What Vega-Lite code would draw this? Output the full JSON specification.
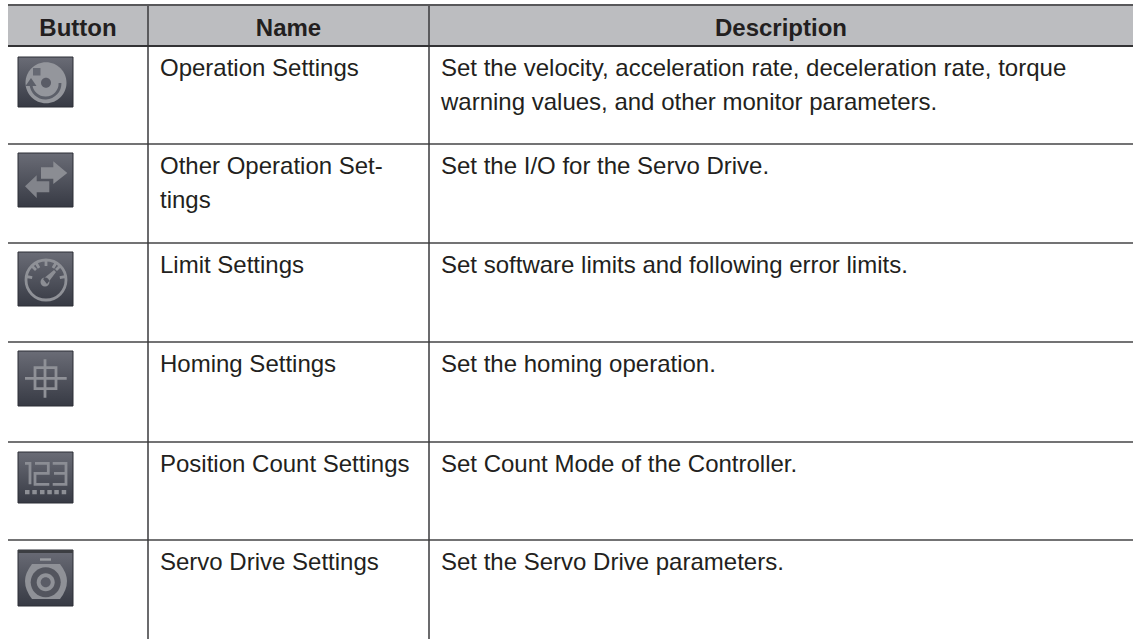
{
"$schema":"https://vega.github.io/schema/vega-lite/v6.json",
"width":1133,"height":639,"padding":0,"autosize":{"type":"none"},
"background":"white",
"config":{"view":{"stroke":null},"axis":{"disable":true},"legend":{"disable":true}},
"datasets":{
"header":[{"row":0,"col":0.5,"text":"Button"},{"row":0,"col":1.5,"text":"Name"},{"row":0,"col":2.5,"text":"Description"}],
"names":[{"row":1,"col":1,"text":"Operation Settings"},{"row":2,"col":1,"text":"Other Operation Set-\ntings"},{"row":3,"col":1,"text":"Limit Settings"},{"row":4,"col":1,"text":"Homing Settings"},{"row":5,"col":1,"text":"Position Count Settings"},{"row":6,"col":1,"text":"Servo Drive Settings"}],
"descriptions":[{"row":1,"col":2,"text":"Set the velocity, acceleration rate, deceleration rate, torque\nwarning values, and other monitor parameters."},{"row":2,"col":2,"text":"Set the I/O for the Servo Drive."},{"row":3,"col":2,"text":"Set software limits and following error limits."},{"row":4,"col":2,"text":"Set the homing operation."},{"row":5,"col":2,"text":"Set Count Mode of the Controller."},{"row":6,"col":2,"text":"Set the Servo Drive parameters."}],
"icons":[{"row":1,"icon":"bg1"},{"row":2,"icon":"bg2"},{"row":3,"icon":"bg3"},{"row":4,"icon":"bg4"},{"row":5,"icon":"bg5"},{"row":6,"icon":"bg6"}],
"filledParts":[
{"row":1,"part":"disc"},{"row":1,"part":"square"},{"row":1,"part":"dot"},{"row":1,"part":"arrowhead"},
{"row":2,"part":"arrowRight"},{"row":2,"part":"arrowLeft"},
{"row":3,"part":"hub"},
{"row":5,"part":"dots"},
{"row":6,"part":"band"},{"row":6,"part":"dash"},{"row":6,"part":"body"},{"row":6,"part":"ringOuter"},{"row":6,"part":"ringMid"},{"row":6,"part":"ringInner"}
],
"strokedParts":[
{"row":1,"part":"smile"},{"row":3,"part":"dial"},{"row":3,"part":"ticks"},{"row":4,"part":"cross"},{"row":5,"part":"digits"}
]
},
"layer":[
{"data":{"values":[{"row":0,"rowEnd":1}]},"mark":{"type":"rect","fill":"#bcbdc0"},
"encoding":{
"x":{"datum":0,"type":"quantitative","scale":{"domain":[0,1,2,3],"range":[8,148,429,1133],"nice":false,"zero":false}},
"x2":{"datum":3},
"y":{"field":"row","type":"quantitative","scale":{"domain":[0,1,2,3,4,5,6,7],"range":[5,46,144,243,342,442,540,639],"nice":false,"zero":false}},
"y2":{"field":"rowEnd"}}},
{"data":{"values":[{"row":2},{"row":3},{"row":4},{"row":5},{"row":6}]},"mark":{"type":"rule","stroke":"#444446","strokeWidth":1.4},
"encoding":{"x":{"datum":0,"type":"quantitative"},"x2":{"datum":3},"y":{"field":"row","type":"quantitative"}}},
{"data":{"values":[{"col":1},{"col":2}]},"mark":{"type":"rule","stroke":"#3a3a3c","strokeWidth":1.5},
"encoding":{"x":{"field":"col","type":"quantitative"},"y":{"datum":0,"type":"quantitative"},"y2":{"datum":7}}},
{"data":{"values":[{"row":0,"w":"top"}]},"mark":{"type":"rule","stroke":"#58585a","strokeWidth":2},
"encoding":{"x":{"datum":0,"type":"quantitative"},"x2":{"datum":3},"y":{"field":"row","type":"quantitative"}}},
{"data":{"values":[{"row":1,"w":"head"}]},"mark":{"type":"rule","stroke":"#333335","strokeWidth":2.2},
"encoding":{"x":{"datum":0,"type":"quantitative"},"x2":{"datum":3},"y":{"field":"row","type":"quantitative"}}},
{"data":{"name":"icons"},"mark":{"type":"point","filled":true,"opacity":1,"size":4,"strokeWidth":1,"stroke":"#2d2f36",
"fill":{"gradient":"linear","x1":0,"y1":0,"x2":0,"y2":1,"stops":[{"offset":0,"color":"#6a6c76"},{"offset":1,"color":"#373a44"}]}},
"encoding":{"x":{"datum":0,"type":"quantitative"},"y":{"field":"row","type":"quantitative"},
"shape":{"field":"icon","type":"nominal","scale":{
"domain":["bg1","bg2","bg3","bg4","bg5","bg6"],
"range":["M10 11H65V61H10Z","M10 9H65V63H10Z","M10 9H65V63H10Z","M10 9H65V64H10Z","M10 10H65V61H10Z","M10 10H65V66H10Z"]}}}},
{"data":{"name":"filledParts"},"mark":{"type":"point","filled":true,"opacity":1,"size":4,"strokeWidth":0},
"encoding":{"x":{"datum":0,"type":"quantitative"},"y":{"field":"row","type":"quantitative"},
"shape":{"field":"part","type":"nominal","scale":{
"domain":["disc","square","dot","arrowhead","arrowRight","arrowLeft","hub","dots","band","dash","body","ringOuter","ringMid","ringInner"],
"range":[
"M17.5 36.7A20.5 20.5 0 1 0 58.5 36.7A20.5 20.5 0 1 0 17.5 36.7Z",
"M25 22H32.5V29.5H25Z",
"M33 36.7A5 5 0 1 0 43 36.7A5 5 0 1 0 33 36.7Z",
"M23 32L17.5 40L28.5 40Z",
"M33 23.3H45.3V17.3L59.3 29L45.3 40V34.7H33Z",
"M41.3 37.3H28.7V31.3L17 42.3L28.7 54V48.3H41.3Z",
"M32.5 39A4.5 4.5 0 1 0 41.5 39A4.5 4.5 0 1 0 32.5 39ZM35 36L46 27L48 29L39 41Z",
"M17 48H21.5V52.3H17ZM24.3 48H28.8V52.3H24.3ZM32 48H36.5V52.3H32ZM39.3 48H43.8V52.3H39.3ZM46.3 48H50.8V52.3H46.3ZM53.7 48H58.2V52.3H53.7Z",
"M10 10H65V13H10Z",
"M32 18.3H43V20.7H32Z",
"M24 24L52 24Q59 33 59 41Q59 50 52 59L24 59Q17 50 17 41Q17 33 24 24Z",
"M22.7 42.3A15 15 0 1 0 52.7 42.3A15 15 0 1 0 22.7 42.3Z",
"M28.7 42.3A9 9 0 1 0 46.7 42.3A9 9 0 1 0 28.7 42.3Z",
"M32.7 42.3A5 5 0 1 0 42.7 42.3A5 5 0 1 0 32.7 42.3Z"
]}},
"fill":{"field":"part","type":"nominal","scale":{
"domain":["disc","square","dot","arrowhead","arrowRight","arrowLeft","hub","dots","band","dash","body","ringOuter","ringMid","ringInner"],
"range":["#94969c","#666973","#5a5c66","#5c5f69","#8b8d93","#82848b","#8c8e94","#8d8f95","#3c3e42","#9a9ca1","#8f9197","#53555e","#8f9197","#5a5c66"]}}}},
{"data":{"name":"strokedParts"},"mark":{"type":"point","filled":false,"opacity":1,"size":4,"strokeWidth":2.8},
"encoding":{"x":{"datum":0,"type":"quantitative"},"y":{"field":"row","type":"quantitative"},
"shape":{"field":"part","type":"nominal","scale":{"domain":["smile","dial","ticks","cross","digits"],"range":[
"M23 38A14.5 14.5 0 0 0 52 37",
"M18 37A20 20 0 1 0 58 37A20 20 0 1 0 18 37Z",
"M38 17V23M23.9 22.9L28 27M18.3 33.5L24.2 34.6M52.1 22.9L48 27M57.7 33.5L51.8 34.6M28 19.7L31 25M48 19.7L45 25",
"M17 36.3H58.7M37 17.3V55.7M27 25.7H48V46.7H27Z",
"M17 21.3H22V42.3M27 21.3H40.3V31.3H27V42.3H41.3M44.7 21.3H58V42.3H44.7M46 31.3H58"
]}},
"stroke":{"field":"part","type":"nominal","scale":{"domain":["smile","dial","ticks","cross","digits"],"range":["#5c5f69","#8f9197","#8f9197","#8f9197","#8b8d94"]}}}},
{"data":{"name":"header"},"mark":{"type":"text","font":"Liberation Sans","fontSize":24,"fontWeight":"bold","fill":"#231f20","align":"center","baseline":"alphabetic","yOffset":31},
"encoding":{"x":{"field":"col","type":"quantitative"},"y":{"field":"row","type":"quantitative"},"text":{"field":"text"}}},
{"data":{"name":"names"},"mark":{"type":"text","font":"Liberation Sans","fontSize":24,"fill":"#231f20","align":"left","baseline":"alphabetic","lineBreak":"\n","lineHeight":34,"xOffset":12,"yOffset":30},
"encoding":{"x":{"field":"col","type":"quantitative"},"y":{"field":"row","type":"quantitative"},"text":{"field":"text"}}},
{"data":{"name":"descriptions"},"mark":{"type":"text","font":"Liberation Sans","fontSize":24,"fill":"#231f20","align":"left","baseline":"alphabetic","lineBreak":"\n","lineHeight":34,"xOffset":12,"yOffset":30},
"encoding":{"x":{"field":"col","type":"quantitative"},"y":{"field":"row","type":"quantitative"},"text":{"field":"text"}}}
],
"resolve":{"scale":{"shape":"independent","fill":"independent","stroke":"independent"}}
}
